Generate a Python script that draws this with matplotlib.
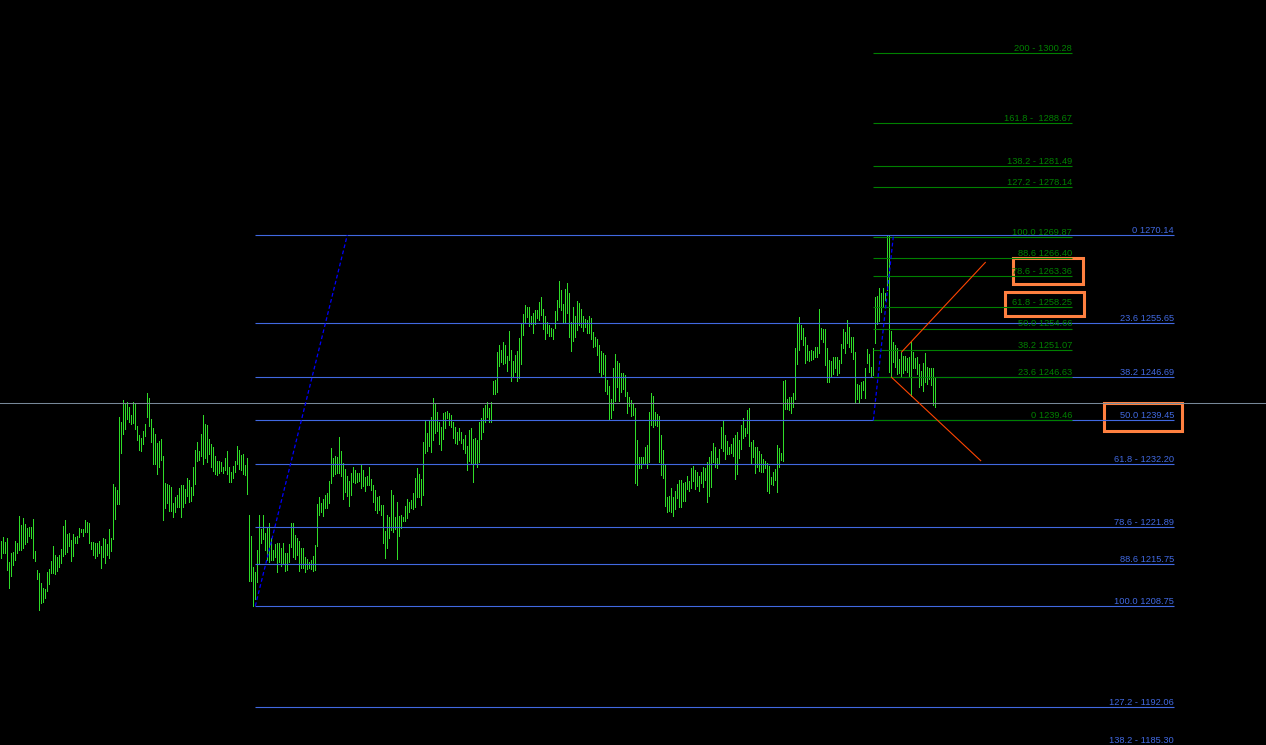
import numpy as np
import matplotlib
matplotlib.use("Agg")
import matplotlib.pyplot as plt
from matplotlib.patches import Rectangle

# bar highs / lows, one per bar, oldest first
highs = [
    1219.5, 1220.2, 1219.3, 1220.0, 1216.0, 1217.5, 1217.7, 1219.5, 1219.2, 1223.6,
    1222.2, 1223.3, 1222.3, 1221.7, 1221.8, 1221.8, 1223.1, 1217.8, 1214.7, 1214.2,
    1212.5, 1211.7, 1211.6, 1214.4, 1214.9, 1216.2, 1218.7, 1217.2, 1216.9, 1217.2,
    1218.2, 1222.0, 1223.0, 1220.7, 1220.8, 1219.7, 1220.7, 1220.2, 1220.3, 1221.7,
    1221.5, 1221.5, 1223.0, 1222.6, 1222.5, 1219.3, 1219.3, 1219.2, 1219.2, 1219.5,
    1218.7, 1220.0, 1219.8, 1219.0, 1221.5, 1220.0, 1228.9, 1228.4, 1227.9, 1240.0,
    1239.2, 1242.8, 1242.3, 1242.5, 1241.7, 1240.4, 1242.5, 1242.3, 1238.5, 1237.0,
    1236.5, 1237.7, 1238.9, 1244.0, 1243.2, 1239.7, 1238.2, 1237.2, 1235.7, 1236.1,
    1236.4, 1233.6, 1229.1, 1228.9, 1228.8, 1228.4, 1225.8, 1226.8, 1227.1, 1228.3,
    1228.8, 1228.8, 1228.1, 1229.9, 1229.6, 1228.4, 1231.8, 1234.6, 1235.9, 1234.4,
    1237.2, 1240.4, 1238.9, 1238.7, 1236.4, 1235.6, 1235.1, 1233.6, 1232.7, 1232.7,
    1232.6, 1231.8, 1233.2, 1234.4, 1231.8, 1230.9, 1231.9, 1232.7, 1235.2, 1234.6,
    1233.7, 1233.9, 1232.1, 1233.2, 1223.8, 1220.3, 1215.2, 1214.4, 1218.0, 1223.8,
    1221.5, 1223.8, 1220.8, 1221.8, 1222.5, 1220.0, 1218.0, 1219.0, 1219.2, 1219.2,
    1218.3, 1219.2, 1217.5, 1217.5, 1219.0, 1222.5, 1222.5, 1220.5, 1220.0, 1219.5,
    1218.3, 1218.3, 1216.9, 1216.5, 1216.0, 1216.4, 1217.0, 1218.8, 1225.6, 1226.8,
    1225.8, 1226.5, 1227.1, 1227.4, 1229.4, 1234.9, 1233.2, 1233.6, 1233.4, 1236.7,
    1234.4, 1232.4, 1231.4, 1230.3, 1229.4, 1230.8, 1231.8, 1231.3, 1230.8, 1230.8,
    1232.1, 1231.3, 1230.1, 1230.3, 1231.8, 1229.8, 1228.8, 1227.9, 1226.8, 1226.9,
    1225.5, 1225.5, 1221.2, 1223.8, 1223.5, 1227.9, 1227.1, 1223.5, 1226.0, 1223.6,
    1223.8, 1223.5, 1225.3, 1226.5, 1226.0, 1226.3, 1227.4, 1229.9, 1231.6, 1230.6,
    1229.8, 1235.9, 1239.4, 1237.4, 1239.4, 1240.0, 1243.2, 1242.3, 1240.9, 1239.2,
    1238.4, 1240.7, 1240.9, 1241.0, 1240.7, 1240.4, 1239.2, 1238.4, 1237.5, 1238.2,
    1237.5, 1236.4, 1237.0, 1235.2, 1237.9, 1238.2, 1236.4, 1236.5, 1236.2, 1239.2,
    1239.9, 1241.5, 1242.0, 1242.5, 1241.5, 1242.5, 1246.0, 1246.2, 1250.8, 1251.9,
    1251.1, 1252.4, 1251.9, 1250.1, 1254.3, 1251.1, 1249.3, 1250.3, 1250.9, 1253.1,
    1255.6, 1257.1, 1258.6, 1258.2, 1258.2, 1256.7, 1257.2, 1257.7, 1257.7, 1259.1,
    1259.9, 1257.9, 1256.7, 1255.7, 1255.3, 1254.8, 1254.6, 1257.6, 1259.4, 1262.5,
    1261.0, 1258.7, 1261.2, 1262.2, 1260.5, 1255.7, 1258.2, 1256.7, 1259.2, 1258.9,
    1257.9, 1256.7, 1256.2, 1256.1, 1256.7, 1256.4, 1254.1, 1253.3, 1252.9, 1251.9,
    1250.9, 1250.6, 1250.3, 1246.2, 1245.2, 1243.0, 1248.1, 1250.4, 1249.3, 1249.0,
    1247.3, 1247.3, 1247.0, 1244.2, 1243.3, 1242.8, 1242.2, 1241.5, 1236.2, 1233.4,
    1233.4, 1233.4, 1235.1, 1235.4, 1240.9, 1244.0, 1243.5, 1240.9, 1240.5, 1240.2,
    1237.0, 1234.6, 1232.3, 1226.8, 1226.9, 1228.3, 1226.8, 1227.8, 1228.9, 1229.6,
    1229.6, 1229.1, 1229.3, 1230.3, 1229.4, 1231.6, 1231.9, 1231.3, 1230.9, 1230.3,
    1230.9, 1231.8, 1231.6, 1232.6, 1233.4, 1234.4, 1235.7, 1235.1, 1233.2, 1234.7,
    1238.4, 1239.4, 1237.0, 1236.1, 1235.1, 1235.6, 1236.5, 1237.0, 1237.5, 1236.2,
    1238.7, 1239.9, 1238.2, 1241.2, 1241.5, 1235.9, 1236.2, 1235.1, 1235.1, 1234.4,
    1233.9, 1233.1, 1232.7, 1232.4, 1231.9, 1230.1, 1230.9, 1231.4, 1235.4, 1234.9,
    1234.1, 1246.0, 1246.2, 1243.0, 1243.3, 1243.3, 1244.0, 1251.4, 1255.6, 1256.6,
    1255.3, 1254.8, 1253.3, 1251.9, 1250.9, 1251.1, 1250.9, 1251.6, 1251.6, 1257.9,
    1254.8, 1254.6, 1254.6, 1251.4, 1249.5, 1249.3, 1250.0, 1250.0, 1250.0, 1249.5,
    1252.1, 1254.6, 1254.1, 1256.1, 1254.9, 1253.3, 1253.3, 1250.8, 1245.5, 1245.3,
    1245.8, 1246.0, 1248.1, 1251.3, 1250.4, 1248.3, 1251.4, 1259.9, 1260.0, 1261.4,
    1260.5, 1261.4, 1260.5, 1270.1, 1270.1, 1254.3, 1252.4, 1251.9, 1251.4, 1249.6,
    1250.8, 1250.1, 1250.1, 1249.8, 1250.0, 1252.4, 1250.8, 1249.8, 1250.0, 1248.8,
    1247.6, 1249.0, 1250.6, 1248.3, 1248.1, 1248.1, 1248.1, 1246.6,
]
lows = [
    1216.7, 1217.5, 1217.5, 1214.7, 1211.7, 1213.7, 1215.5, 1216.4, 1217.5, 1218.0,
    1218.0, 1218.3, 1219.0, 1219.3, 1220.3, 1220.0, 1216.7, 1216.2, 1213.2, 1208.1,
    1209.2, 1209.4, 1210.1, 1211.2, 1212.4, 1214.2, 1214.2, 1214.0, 1214.5, 1215.2,
    1215.9, 1217.0, 1217.3, 1217.7, 1218.7, 1216.2, 1217.0, 1219.2, 1219.2, 1220.2,
    1221.0, 1220.3, 1221.0, 1221.0, 1219.2, 1218.2, 1217.2, 1216.7, 1217.0, 1217.5,
    1215.0, 1216.9, 1215.9, 1217.2, 1216.7, 1217.8, 1219.8, 1223.1, 1225.6, 1225.6,
    1234.1, 1237.2, 1238.0, 1239.7, 1239.2, 1238.9, 1239.0, 1238.0, 1236.2, 1234.6,
    1234.4, 1235.6, 1236.9, 1240.0, 1238.5, 1235.9, 1232.3, 1232.3, 1230.6, 1231.8,
    1232.9, 1223.0, 1225.0, 1225.8, 1224.5, 1224.5, 1223.5, 1224.3, 1225.1, 1225.1,
    1223.5, 1225.1, 1225.8, 1226.9, 1226.0, 1226.1, 1227.1, 1228.9, 1232.7, 1232.9,
    1233.6, 1232.3, 1233.2, 1232.6, 1233.9, 1231.8, 1231.1, 1230.6, 1230.4, 1230.8,
    1231.1, 1230.8, 1231.3, 1230.6, 1229.3, 1229.3, 1229.9, 1230.9, 1232.3, 1231.4,
    1231.3, 1230.6, 1230.4, 1227.3, 1212.9, 1212.9, 1208.75, 1209.9, 1212.7, 1215.9,
    1219.2, 1219.8, 1218.0, 1216.4, 1216.0, 1216.4, 1216.4, 1216.9, 1214.4, 1216.0,
    1215.4, 1215.9, 1214.5, 1214.7, 1216.0, 1218.5, 1216.9, 1216.5, 1217.2, 1214.5,
    1215.0, 1215.0, 1214.4, 1214.9, 1215.0, 1214.9, 1214.5, 1214.7, 1218.7, 1223.8,
    1224.3, 1223.6, 1225.0, 1225.0, 1225.8, 1229.1, 1230.3, 1230.6, 1230.8, 1230.8,
    1230.3, 1226.5, 1227.6, 1226.9, 1225.3, 1227.1, 1229.3, 1229.1, 1229.3, 1229.4,
    1228.3, 1228.6, 1227.8, 1228.8, 1228.8, 1227.9, 1226.0, 1224.6, 1224.1, 1224.6,
    1223.8, 1219.2, 1216.7, 1218.3, 1220.0, 1221.3, 1221.0, 1221.5, 1216.5, 1220.3,
    1221.7, 1222.8, 1222.8, 1223.3, 1224.3, 1225.0, 1224.8, 1225.1, 1226.8, 1226.8,
    1225.5, 1227.1, 1234.1, 1234.4, 1235.2, 1234.2, 1236.2, 1237.4, 1237.7, 1235.6,
    1234.6, 1236.4, 1238.2, 1239.9, 1238.7, 1238.4, 1236.5, 1235.7, 1235.6, 1236.2,
    1235.7, 1234.7, 1234.1, 1231.3, 1232.7, 1232.3, 1229.3, 1232.4, 1231.8, 1232.6,
    1236.4, 1237.5, 1239.2, 1240.0, 1239.2, 1239.2, 1243.8, 1243.8, 1244.2, 1248.5,
    1249.1, 1248.8, 1249.0, 1247.6, 1249.5, 1246.0, 1246.6, 1247.5, 1246.0, 1246.5,
    1248.8, 1253.6, 1255.7, 1256.6, 1255.1, 1255.4, 1253.9, 1255.4, 1256.4, 1256.1,
    1256.9, 1254.6, 1252.9, 1253.9, 1253.4, 1253.4, 1252.9, 1254.8, 1256.1, 1258.2,
    1257.7, 1255.7, 1255.7, 1257.2, 1253.3, 1250.9, 1252.6, 1253.3, 1254.4, 1255.3,
    1254.9, 1254.3, 1254.9, 1253.9, 1253.9, 1252.9, 1251.6, 1251.8, 1250.3, 1247.5,
    1246.8, 1247.1, 1244.3, 1243.8, 1239.5, 1239.9, 1241.2, 1242.7, 1245.0, 1242.7,
    1244.2, 1244.7, 1243.5, 1240.7, 1241.8, 1240.2, 1240.4, 1229.1, 1228.8, 1231.6,
    1231.6, 1232.4, 1232.4, 1231.6, 1232.6, 1238.7, 1238.4, 1238.7, 1238.5, 1232.6,
    1230.4, 1229.9, 1225.3, 1224.3, 1224.5, 1224.3, 1223.6, 1224.8, 1226.6, 1225.1,
    1225.1, 1226.1, 1226.1, 1228.1, 1227.8, 1228.3, 1229.4, 1228.1, 1228.6, 1227.8,
    1229.1, 1228.4, 1229.6, 1226.0, 1226.9, 1228.4, 1232.6, 1231.8, 1231.6, 1232.3,
    1234.9, 1234.4, 1233.1, 1233.9, 1233.9, 1234.1, 1233.6, 1229.8, 1230.6, 1233.2,
    1234.7, 1236.5, 1236.9, 1237.4, 1235.2, 1232.3, 1233.4, 1230.8, 1231.8, 1231.1,
    1230.9, 1230.9, 1231.6, 1227.8, 1227.4, 1228.9, 1228.8, 1229.6, 1227.6, 1231.8,
    1232.9, 1232.7, 1241.3, 1241.3, 1241.2, 1240.7, 1241.7, 1243.0, 1248.8, 1251.1,
    1252.9, 1251.9, 1249.0, 1249.5, 1249.3, 1249.5, 1249.6, 1250.0, 1250.0, 1250.6,
    1252.9, 1252.4, 1248.6, 1245.8, 1245.8, 1246.6, 1247.1, 1248.1, 1247.0, 1247.3,
    1249.0, 1251.4, 1250.6, 1252.3, 1251.6, 1250.8, 1249.6, 1242.3, 1243.0, 1242.5,
    1243.2, 1244.5, 1243.2, 1249.0, 1247.5, 1246.8, 1247.0, 1252.3, 1255.4, 1255.9,
    1257.4, 1258.4, 1259.4, 1261.0, 1247.5, 1246.6, 1249.1, 1248.3, 1247.1, 1247.3,
    1246.8, 1247.3, 1247.8, 1247.5, 1246.6, 1243.5, 1248.1, 1248.1, 1247.1, 1245.0,
    1245.3, 1244.3, 1245.8, 1245.5, 1246.3, 1245.3, 1242.0, 1241.7,
]

# blue retracement levels
retr_labels = ["0 1270.14", "23.6 1255.65", "38.2 1246.69", "50.0 1239.45",
               "61.8 - 1232.20", "78.6 - 1221.89", "88.6 1215.75", "100.0 1208.75",
               "127.2 - 1192.06", "138.2 - 1185.30"]
retr_prices = [1270.14, 1255.65, 1246.69, 1239.45, 1232.20, 1221.89, 1215.75,
               1208.75, 1192.06, 1185.30]
retr_span = (127, 586.4)
retr_anchor = [(127, 1208.75), (173, 1270.14)]

# green expansion levels
ext_labels = ["200 - 1300.28", "161.8 -  1288.67", "138.2 - 1281.49", "127.2 - 1278.14",
              "100.0 1269.87", "88.6 1266.40", "78.6 - 1263.36", "61.8 - 1258.25",
              "50.0 1254.66", "38.2 1251.07", "23.6 1246.63", "0 1239.46"]
ext_prices = [1300.28, 1288.67, 1281.49, 1278.14, 1269.87, 1266.40, 1263.36,
              1258.25, 1254.66, 1251.07, 1246.63, 1239.46]
ext_span = (436, 535.4)
ext_anchor = [(436, 1239.46), (446, 1269.87)]

bid_price = 1242.34

# red lines drawn out of the last swing
wedge_upper = [(450.2, 1250.8), (492, 1265.6)]
wedge_lower = [(445.1, 1246.6), (489.7, 1232.8)]

# orange highlight boxes: x0, x1, top price, bottom price
boxes = [(505.7, 540.7, 1266.4, 1262.0),
         (501.9, 541.4, 1260.7, 1256.7),
         (551.4, 590.5, 1242.4, 1237.7)]

BAR = "#2fdc28"
BLUE = "#4169e1"
GREEN = "#008000"
FONT = ["Liberation Sans", "DejaVu Sans"]
Y_LOW, Y_HIGH = 1185.75, 1309.03

fig = plt.figure(figsize=(12.66, 7.45), dpi=100)
fig.patch.set_facecolor("black")
ax = fig.add_axes([0, 0, 1, 1])
ax.set_facecolor("black")
ax.set_xlim(-0.65, 632.35)
ax.set_ylim(Y_LOW, Y_HIGH)
ax.axis("off")

idx = np.arange(len(highs))
ax.vlines(idx, lows, highs, colors=BAR, linewidth=0.72, antialiased=False)

ax.axhline(bid_price, color="#778899", linewidth=0.75)

ax.hlines(retr_prices, retr_span[0], retr_span[1], colors=BLUE, linewidth=0.8)
ax.hlines(ext_prices, ext_span[0], ext_span[1], colors=GREEN, linewidth=0.8)

for anchor in (retr_anchor, ext_anchor):
    xs, ys = zip(*anchor)
    ax.plot(xs, ys, color="#0000ff", linewidth=0.9, linestyle=(0, (3, 2)))

for seg in (wedge_upper, wedge_lower):
    xs, ys = zip(*seg)
    ax.plot(xs, ys, color="#ff4500", linewidth=0.8)


def level_labels(labels, prices, x_end, color):
    for lab, p in zip(labels, prices):
        # a level below the window keeps its label on the bottom edge
        ax.annotate(lab, (x_end, max(p, Y_LOW)), xytext=(0, 1.5),
                    textcoords="offset points", ha="right", va="baseline",
                    color=color, fontsize=6.7, family=FONT, annotation_clip=False)


level_labels(retr_labels, retr_prices, retr_span[1], BLUE)
level_labels(ext_labels, ext_prices, ext_span[1], GREEN)

for x0, x1, top, bot in boxes:
    ax.add_patch(Rectangle((x0, bot), x1 - x0, top - bot, fill=False,
                           edgecolor="#ff8040", linewidth=2.2))

fig.savefig("out.png", dpi=100, facecolor="black")
